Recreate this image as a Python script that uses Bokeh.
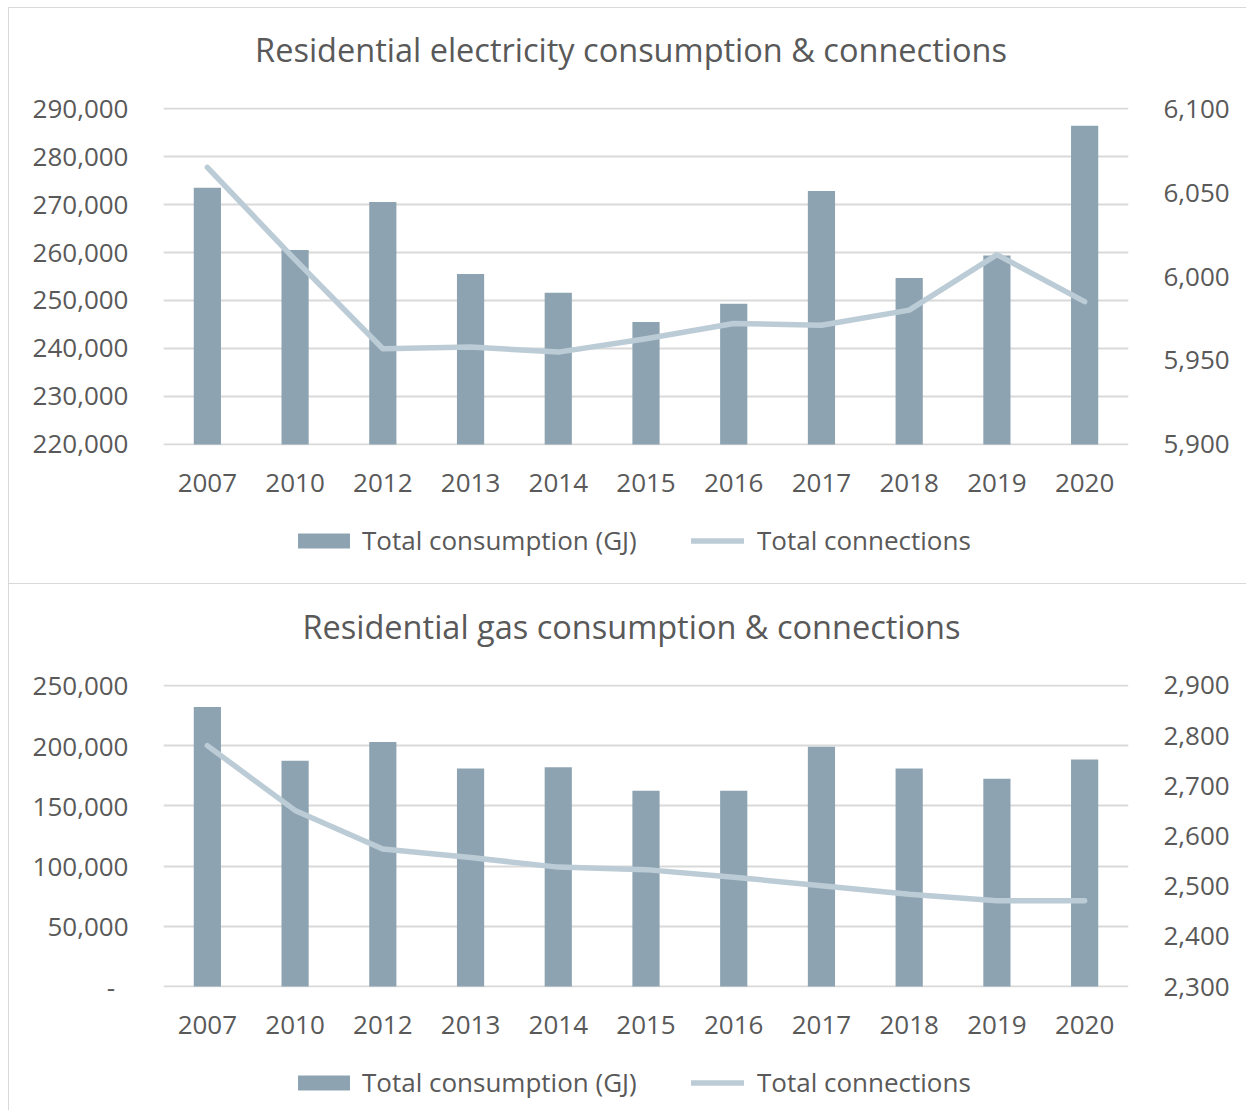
from bokeh.plotting import figure
from bokeh.models import (Range1d, LinearAxis, FixedTicker, NumeralTickFormatter,
                          Legend, LegendItem, Label, ColumnDataSource)
from bokeh.layouts import column
from bokeh.embed import file_html
from bokeh.resources import INLINE

# ---------------- data ----------------
years = ["2007", "2010", "2012", "2013", "2014", "2015", "2016", "2017", "2018", "2019", "2020"]

elec_consumption = [273500, 260500, 270500, 255500, 251600, 245500, 249300, 272800, 254700, 259400, 286400]
elec_connections = [6065, 6010, 5957, 5958, 5955, 5963, 5972, 5971, 5980, 6013, 5985]

gas_consumption = [232000, 187500, 203000, 181000, 182000, 162500, 162500, 199000, 181000, 172500, 188500]
gas_connections = [2780, 2651, 2574, 2557, 2538, 2533, 2518, 2501, 2484, 2471, 2471]

elec_left_ticks = [220000, 230000, 240000, 250000, 260000, 270000, 280000, 290000]
elec_right_ticks = [5900, 5950, 6000, 6050, 6100]
gas_left_ticks = [0, 50000, 100000, 150000, 200000, 250000]
gas_right_ticks = [2300, 2400, 2500, 2600, 2700, 2800, 2900]

elec_title = "Residential electricity consumption & connections"
gas_title = "Residential gas consumption & connections"
bar_label = "Total consumption (GJ)"
line_label = "Total connections"

# ---------------- style ----------------
FONT = "Open Sans"
TEXT = "#595959"
BAR = "#8DA3B1"
LINE = "#BCCCD6"
GRID = "#D9D9D9"
FS = "26px"
W = 1246
FRAME_LEFT = 163
PAD = 0.003  # tiny range padding so edge gridlines are fully visible

G = "linear-gradient(#D9D9D9,#D9D9D9)"
VLINE = G + " 8px 0 / 1px 100% no-repeat"


def padded(ticks):
    span = ticks[-1] - ticks[0]
    return Range1d(ticks[0] - span * PAD, ticks[-1] + span * PAD)


def style_axis(ax, standoff):
    ax.axis_line_color = None
    ax.major_tick_line_color = None
    ax.minor_tick_line_color = None
    ax.major_tick_in = 0
    ax.major_tick_out = 0
    ax.minor_tick_in = 0
    ax.minor_tick_out = 0
    ax.major_label_text_font = FONT
    ax.major_label_text_font_size = FS
    ax.major_label_text_color = TEXT
    ax.major_label_standoff = standoff


def base(height, bg, x_range, y_range):
    f = figure(width=W, height=height, x_range=x_range, y_range=y_range,
               output_backend="svg", toolbar_location=None,
               min_border_left=FRAME_LEFT, min_border_right=118,
               outline_line_color=None, border_fill_color=None,
               styles={"background": bg})
    return f


def strip(f):
    f.min_border_top = 0
    f.min_border_bottom = 0
    f.xaxis.visible = False
    f.yaxis.visible = False
    f.grid.visible = False
    f.background_fill_color = None


def title_fig(text, height, y, x, bg):
    f = base(height, bg, Range1d(0, 1), Range1d(0, 1))
    strip(f)
    f.add_layout(Label(x=x - FRAME_LEFT, y=y, x_units="screen", y_units="screen",
                       text=text, text_align="center", text_baseline="middle",
                       text_font=FONT, text_font_size="32.5px", text_color=TEXT))
    return f


def make_legend(item, x, y, gw, gh, standoff):
    return Legend(items=[item], orientation="horizontal", location=(x - FRAME_LEFT, y),
                  glyph_width=gw, glyph_height=gh, label_standoff=standoff,
                  padding=0, margin=0, border_line_color=None,
                  background_fill_alpha=0,
                  label_text_font=FONT, label_text_font_size=FS,
                  label_text_color=TEXT, label_text_baseline="middle")


def legend_fig(src, lticks, height, y):
    f = base(height, VLINE, years, Range1d(-2, -1))
    strip(f)
    f.extra_y_ranges = {"conn": Range1d(-2, -1)}
    b = f.vbar(x="year", top="cons", bottom=lticks[0], width=0.31, fill_color=BAR,
               line_color=None, source=src, visible=False)
    l = f.line(x="year", y="conn", y_range_name="conn", line_width=5.5,
               line_color=LINE, line_cap="round", source=src, visible=False)
    f.add_layout(make_legend(LegendItem(label=bar_label, renderers=[b]),
                             291, y, 65, 19, 6))
    f.add_layout(make_legend(LegendItem(label=line_label, renderers=[l]),
                             691, y, 53, 19, 13))
    return f


def chart_fig(src, lticks, rticks, height, zero_dash=False):
    p = base(height, VLINE, years, padded(lticks))
    p.min_border_top = 23
    p.min_border_bottom = 69
    p.extra_y_ranges = {"conn": padded(rticks)}

    p.xgrid.grid_line_color = None
    p.ygrid.grid_line_color = GRID
    p.ygrid.grid_line_width = 2
    p.ygrid.ticker = FixedTicker(ticks=lticks)

    p.yaxis.ticker = FixedTicker(ticks=lticks)
    p.yaxis.formatter = NumeralTickFormatter(format="0,0")
    if zero_dash:
        p.yaxis.major_label_overrides = {0: "-\u00a0\u00a0"}
    style_axis(p.yaxis[0], 35)
    style_axis(p.xaxis[0], 28)

    rax = LinearAxis(y_range_name="conn", ticker=FixedTicker(ticks=rticks),
                     formatter=NumeralTickFormatter(format="0,0"))
    style_axis(rax, 35)
    p.add_layout(rax, "right")

    p.vbar(x="year", top="cons", bottom=lticks[0], width=0.31,
           fill_color=BAR, line_color=None, source=src)
    p.line(x="year", y="conn", y_range_name="conn", line_width=5.5,
           line_color=LINE, line_join="round", line_cap="round", source=src)
    return p


src1 = ColumnDataSource(dict(year=years, cons=elec_consumption, conn=elec_connections))
src2 = ColumnDataSource(dict(year=years, cons=gas_consumption, conn=gas_connections))

t1 = title_fig(elec_title, 84, 35, 630.5,
               G + " 8px 7px / 1px 100% no-repeat, " + G + " 8px 7px / 100% 1px no-repeat")
p1 = chart_fig(src1, elec_left_ticks, elec_right_ticks, 430)
l1 = legend_fig(src1, elec_left_ticks, 69, 25)

t2 = title_fig(gas_title, 78, 35, 631,
               VLINE + ", " + G + " 8px 0 / 100% 1px no-repeat")
p2 = chart_fig(src2, gas_left_ticks, gas_right_ticks, 395, zero_dash=True)
l2 = legend_fig(src2, gas_left_ticks, 54, 10)

layout = column(t1, p1, l1, t2, p2, l2, spacing=0)
open("out.html", "w").write(file_html(layout, INLINE))
